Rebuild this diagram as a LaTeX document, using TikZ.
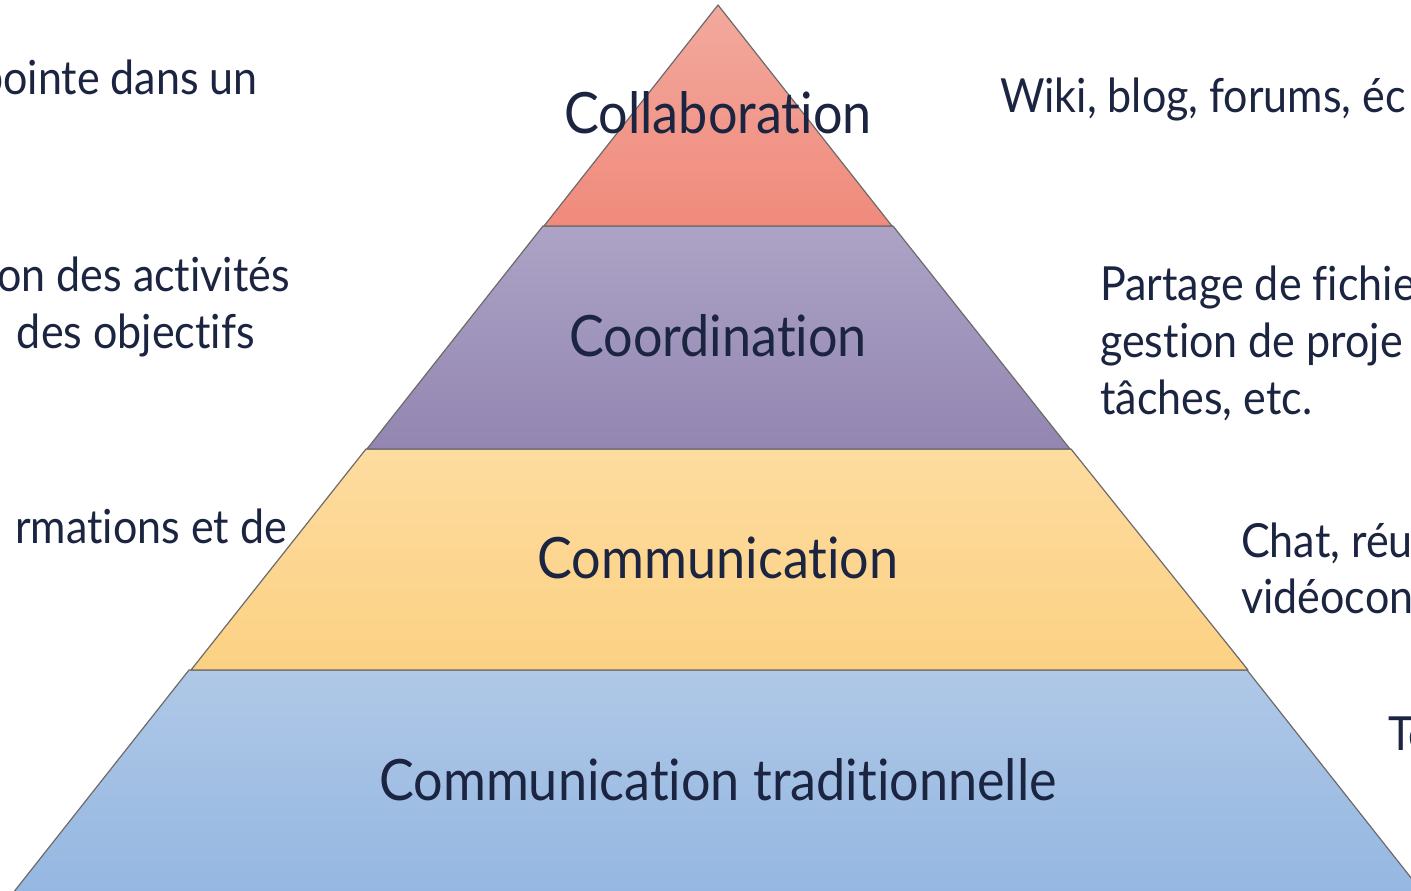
\documentclass[tikz,border=0pt]{standalone}
\usepackage{fontspec}
\setmainfont{Lato}[FakeStretch=0.915,Ligatures={NoCommon}]
\definecolor{txt}{HTML}{1B2440}
\definecolor{edge}{HTML}{6E6A6A}
\definecolor{c1t}{HTML}{F2A99D}\definecolor{c1b}{HTML}{F08A7C}
\definecolor{c2t}{HTML}{ACA3C6}\definecolor{c2b}{HTML}{9386B1}
\definecolor{c3t}{HTML}{FDDC9F}\definecolor{c3b}{HTML}{FCD183}
\definecolor{c4t}{HTML}{AFC8E7}\definecolor{c4b}{HTML}{95B7E1}
\begin{document}
\begin{tikzpicture}[x=1pt,y=-1pt,
  layer/.style={draw=edge,line width=1.2pt,line join=round},
  lbl/.style={inner sep=0pt,text=txt,font=\fontsize{57}{60}\selectfont},
  side/.style={inner sep=0pt,text=txt,font=\fontsize{47}{57}\selectfont}]
\useasboundingbox (0,0) rectangle (1411,891);
\clip (0,0) rectangle (1411,891);
\fill[white] (0,0) rectangle (1411,891);
% layers
\shade[layer,top color=c4t,bottom color=c4b] (189,670) -- (1247,670) -- (1423,893) -- (13,893) -- cycle;
\shade[layer,top color=c3t,bottom color=c3b] (366,449) -- (1071,449) -- (1248,670) -- (191,670) -- cycle;
\shade[layer,top color=c2t,bottom color=c2b] (543,226) -- (893,226) -- (1070,449) -- (367,449) -- cycle;
\shade[layer,top color=c1t,bottom color=c1b] (718,5) -- (892,226) -- (544,226) -- cycle;
% labels
\node[lbl,anchor=base] (l1) at (718,133) {Collaboration};
\node[lbl,anchor=base] (l2) at (718,356) {Coordination};
\node[lbl,anchor=base] (l3) at (718,578) {Communication};
\node[lbl,anchor=base] (l4) at (718,800) {Communication traditionnelle};
% left side texts
\node[side,anchor=base east] (s1) at (258,95) {pointe dans un};
\node[side,anchor=base east] (s2a) at (290,291) {on des activités};
\node[side,anchor=base east] (s2b) at (255,348) {des objectifs};
\node[side,anchor=base east] (s3) at (287,543) {rmations et de};
% right side texts
\node[side,anchor=base west] (r1) at (1000,112) {Wiki, blog, forums, éc};
\node[side,anchor=base west] (r2a) at (1100,300) {Partage de fichie};
\node[side,anchor=base west] (r2b) at (1100,357) {gestion de proje};
\node[side,anchor=base west] (r2c) at (1100,414) {tâches, etc.};
\node[side,anchor=base west] (r3a) at (1241,557) {Chat, réu};
\node[side,anchor=base west] (r3b) at (1241,613) {vidéocon};
\node[side,anchor=base west] (r4) at (1388,750) {Te};
\end{tikzpicture}
\end{document}
